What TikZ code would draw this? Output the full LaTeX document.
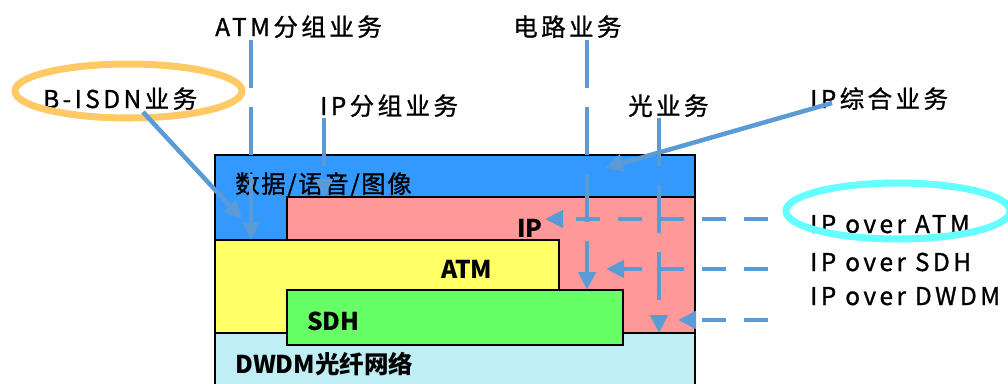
\documentclass[tikz,border=0pt]{standalone}
\usepackage{fontspec}
\setmainfont{Noto Sans CJK SC}
\newfontfamily\labfont{Noto Sans CJK SC}[LetterSpace=14,FakeBold=1]
\newfontfamily\labfontm{Noto Sans CJK SC}[LetterSpace=6,FakeBold=1]
\usetikzlibrary{arrows.meta}
\definecolor{cData}{HTML}{3399FF}
\definecolor{cIP}{HTML}{FF9999}
\definecolor{cATM}{HTML}{FFFF66}
\definecolor{cSDH}{HTML}{66FF66}
\definecolor{cDWDM}{HTML}{BFEFF5}
\definecolor{cArr}{HTML}{5B9BD5}
\definecolor{cOr}{HTML}{FFC966}
\definecolor{cCy}{HTML}{66FFFF}
\begin{document}
\begin{tikzpicture}[x=1pt,y=-1pt,
  lbl/.style={anchor=base west, inner sep=0pt, font=\labfont\fontsize{24.5}{26}\selectfont},
  lblm/.style={anchor=base west, inner sep=0pt, font=\labfontm\fontsize{24.5}{26}\selectfont},
  blbl/.style={anchor=base west, inner sep=0pt, font=\fontsize{24.5}{26}\selectfont\bfseries},
  layerbox/.style={draw=black, line width=1.5pt, anchor=north west, inner sep=0pt, outer sep=0pt},
  flowtip/.style={-{Triangle[length=18pt,width=17pt]}},
  vflow/.style={draw=cArr, line width=4.5pt, dash pattern=on 48pt off 19pt, flowtip},
  hflow/.style={draw=cArr, line width=4.5pt, dash pattern=on 24pt off 18pt, flowtip},
  sflow/.style={draw=cArr, line width=4.5pt, flowtip}
]
\useasboundingbox (0,0) rectangle (1008,383);
% layers
\node[layerbox, fill=cData, minimum width=480pt, minimum height=180pt] (datab) at (215,155) {};
\node[layerbox, fill=cIP, minimum width=408pt, minimum height=136pt] (ipb) at (287,197) {};
\node[layerbox, fill=cATM, minimum width=344pt, minimum height=93pt] (atmb) at (215,240) {};
\node[layerbox, fill=cDWDM, minimum width=480pt, minimum height=70pt] (dwdmb) at (215,333) {};
\node[layerbox, fill=cSDH, minimum width=336pt, minimum height=55pt] (sdhb) at (287,290) {};
% layer labels
\node[lblm] (datat) at (235,193) {数据/语音/图像};
\node[blbl] (ipt) at (517,237) {IP};
\node[blbl] (atmt) at (441,278) {ATM};
\node[blbl] (sdht) at (307,330) {SDH};
\node[blbl] (dwdmt) at (235,373) {DWDM光纤网络};
% service labels
\node[lbl] (atmg) at (215,36) {ATM分组业务};
\node[lbl] (bisdn) at (43,108) {B-ISDN业务};
\node[lbl] (ipg) at (320,115) {IP分组业务};
\node[lbl] (circ) at (513,36) {电路业务};
\node[lbl] (opt) at (628,115) {光业务};
\node[lbl] (ipint) at (810,108) {IP综合业务};
\node[lbl] (ipatm) at (810,233) {IP over ATM};
\node[lbl] (ipsdh) at (810,271) {IP over SDH};
\node[lbl] (ipdwdm) at (810,305) {IP over DWDM};
% highlight rings
\draw[cOr, line width=7pt] (128.5,91) ellipse [x radius=113.5, y radius=27];
\draw[cCy, line width=7pt] (898,211) ellipse [x radius=112, y radius=28];
% flow coordinates
\coordinate (a1s) at (251,40);  \coordinate (a1e) at (251,240);
\coordinate (a2s) at (324,118); \coordinate (a2e) at (324,197);
\coordinate (a3s) at (587,40);  \coordinate (a3e) at (587,290);
\coordinate (a4s) at (659,118); \coordinate (a4e) at (659,333);
\coordinate (b1s) at (143,112); \coordinate (b1e) at (242,219);
\coordinate (b2s) at (832,103); \coordinate (b2e) at (605,168);
\coordinate (h1s) at (768,219); \coordinate (h1e) at (545,219);
\coordinate (h2s) at (768,269); \coordinate (h2e) at (606,269);
\coordinate (h3s) at (768,320); \coordinate (h3e) at (678,320);
% flows
\draw[vflow] (a1s) -- (a1e);
\draw[vflow] (a2s) -- (a2e);
\draw[vflow] (a3s) -- (a3e);
\draw[vflow] (a4s) -- (a4e);
\draw[sflow] (b1s) -- (b1e);
\draw[sflow] (b2s) -- (b2e);
\draw[hflow] (h1s) -- (h1e);
\draw[hflow] (h2s) -- (h2e);
\draw[hflow] (h3s) -- (h3e);
\end{tikzpicture}
\end{document}
